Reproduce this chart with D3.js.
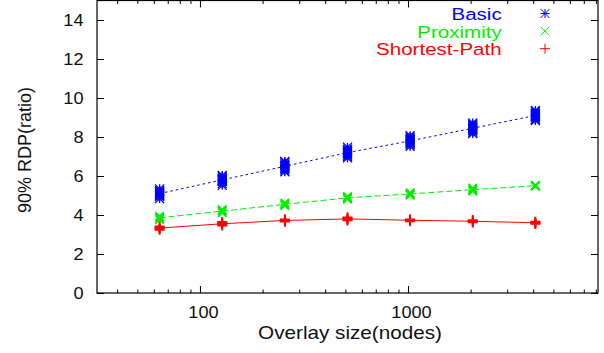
<!DOCTYPE html>
<html>
<head>
<meta charset="utf-8">
<script src="https://cdn.jsdelivr.net/npm/d3@7"></script>
<style>
  body { margin: 0; background: #fff; }
  svg { display: block; }
  text { font-family: "Liberation Sans", Arial, sans-serif; }
</style>
</head>
<body>
<svg id="chart" width="604" height="353"></svg>
<script>
// Overlay sizes (nodes) on the log x axis
const sizes = [64, 128, 256, 512, 1024, 2048, 4096];

// 90% RDP of each run, one inner list per overlay size
const basicRuns = [
  [4.84, 4.95, 5.00, 5.04, 5.10, 5.17, 5.22, 5.24, 5.34],
  [5.52, 5.61, 5.72, 5.78, 5.80, 5.86, 5.90, 5.98, 6.03],
  [6.22, 6.31, 6.38, 6.45, 6.52, 6.55, 6.62, 6.70, 6.75],
  [6.93, 7.00, 7.08, 7.15, 7.19, 7.26, 7.33, 7.38, 7.48],
  [7.52, 7.60, 7.68, 7.74, 7.80, 7.86, 7.93, 8.00, 8.07],
  [8.18, 8.25, 8.33, 8.40, 8.46, 8.50, 8.58, 8.63, 8.72],
  [8.84, 8.90, 8.98, 9.05, 9.10, 9.16, 9.22, 9.29, 9.36]
];
const proximityRuns = [
  [3.76, 3.83, 3.88, 3.94],
  [4.12, 4.18, 4.22, 4.28],
  [4.48, 4.53, 4.57, 4.62],
  [4.81, 4.86, 4.90, 4.95],
  [5.02, 5.06, 5.10, 5.14],
  [5.22, 5.28, 5.32, 5.38],
  [5.47, 5.50, 5.51, 5.52]
];
const shortestPathRuns = [
  [3.24, 3.30, 3.36, 3.42],
  [3.46, 3.52, 3.58, 3.64],
  [3.66, 3.70, 3.74, 3.78],
  [3.72, 3.78, 3.82, 3.88],
  [3.68, 3.72, 3.74, 3.78],
  [3.62, 3.66, 3.70, 3.74],
  [3.54, 3.58, 3.62, 3.66]
];

const seriesNames = ["Basic", "Proximity", "Shortest-Path"];
const yTickValues = [0, 2, 4, 6, 8, 10, 12, 14];
const xMajorTicks = [100, 1000];
const xMinorTicks = [40, 50, 60, 70, 80, 90, 200, 300, 400, 500, 600, 700, 800, 900,
                     2000, 3000, 4000, 5000, 6000, 7000, 8000];
const xDomain = [32, 8192];
const yDomain = [0, 15];

const svg = d3.select("#chart");
const plotLeft = 97, plotRight = 598, plotTop = 0.5, plotBottom = 293;

const x = d3.scaleLog().domain(xDomain).range([plotLeft, plotRight]);
const y = d3.scaleLinear().domain(yDomain).range([plotBottom, plotTop]);

// marker shapes in gnuplot style
const plusPath = s => `M${-s},0H${s}M0,${-s}V${s}`;
const crossPath = s => `M${-s},${-s}L${s},${s}M${-s},${s}L${s},${-s}`;
const starPath = s => plusPath(s) + crossPath(s);

const series = [
  { name: seriesNames[0], runs: basicRuns, color: "#0000ff", dash: "2.5,3", marker: starPath(4.5), mw: 1.3 },
  { name: seriesNames[1], runs: proximityRuns, color: "#00ee00", dash: "6,3", marker: crossPath(4.2), mw: 1.6 },
  { name: seriesNames[2], runs: shortestPathRuns, color: "#ff0000", dash: null, marker: plusPath(5), mw: 1.8 }
];

// axes: ticks point inward and are mirrored on the top and right
function styleAxis(g) {
  g.select(".domain").remove();
  g.selectAll(".tick line").attr("stroke", "#000").attr("stroke-width", 1);
}

const xAxisB = svg.append("g").attr("transform", `translate(0,${plotBottom})`)
  .call(d3.axisBottom(x).tickValues(xMajorTicks).tickSizeInner(-7).tickSizeOuter(0).tickFormat(d3.format("d")))
  .call(styleAxis);
xAxisB.selectAll("text")
  .attr("y", 0).attr("dy", 0)
  .attr("transform", "translate(3,24.5) scale(1.1,1)")
  .style("font-size", "16.5px").style("fill", "#111");

svg.append("g").attr("transform", `translate(0,${plotBottom})`)
  .call(d3.axisBottom(x).tickValues(xMinorTicks).tickSizeInner(-3.5).tickSizeOuter(0).tickFormat(""))
  .call(styleAxis);
svg.append("g").attr("transform", `translate(0,${plotTop})`)
  .call(d3.axisTop(x).tickValues(xMajorTicks).tickSizeInner(-7).tickSizeOuter(0).tickFormat(""))
  .call(styleAxis);
svg.append("g").attr("transform", `translate(0,${plotTop})`)
  .call(d3.axisTop(x).tickValues(xMinorTicks).tickSizeInner(-3.5).tickSizeOuter(0).tickFormat(""))
  .call(styleAxis);

const yAxisL = svg.append("g").attr("transform", `translate(${plotLeft},0)`)
  .call(d3.axisLeft(y).tickValues(yTickValues).tickSizeInner(-7).tickSizeOuter(0))
  .call(styleAxis);
yAxisL.selectAll("text")
  .attr("x", 0).attr("dy", "0.36em")
  .attr("transform", "translate(-13.5,0) scale(1.1,1)")
  .style("font-size", "16.5px").style("fill", "#111");

svg.append("g").attr("transform", `translate(${plotRight},0)`)
  .call(d3.axisRight(y).tickValues(yTickValues).tickSizeInner(-7).tickSizeOuter(0).tickFormat(""))
  .call(styleAxis);

// plot frame
svg.append("rect")
  .attr("x", plotLeft).attr("y", plotTop)
  .attr("width", plotRight - plotLeft).attr("height", plotBottom - plotTop)
  .attr("fill", "none").attr("stroke", "#000").attr("stroke-width", 1.2);

// series: mean line plus every run as a marker
const line = d3.line().x(d => x(d.size)).y(d => y(d.value));

series.forEach(s => {
  const means = sizes.map((size, i) => ({ size, value: d3.mean(s.runs[i]) }));
  const points = sizes.flatMap((size, i) => s.runs[i].map(value => ({ size, value })));
  const g = svg.append("g");
  g.append("path")
    .datum(means)
    .attr("d", line)
    .attr("fill", "none")
    .attr("stroke", s.color)
    .attr("stroke-width", 1)
    .attr("stroke-dasharray", s.dash);
  g.selectAll("path.pt")
    .data(points)
    .join("path")
    .attr("class", "pt")
    .attr("transform", d => `translate(${x(d.size)},${y(d.value)})`)
    .attr("d", s.marker)
    .attr("fill", "none")
    .attr("stroke", s.color)
    .attr("stroke-width", s.mw);
});

// legend
const legend = svg.append("g");
series.forEach((s, i) => {
  const base = 20 + i * 17.6;
  legend.append("text")
    .attr("text-anchor", "end")
    .attr("transform", `translate(501.7,${base}) scale(1.21,1)`)
    .style("font-size", "17px")
    .style("fill", s.color)
    .text(s.name);
  legend.append("path")
    .attr("transform", `translate(545,${base - 6.5})`)
    .attr("d", s.marker)
    .attr("fill", "none")
    .attr("stroke", s.color)
    .attr("stroke-width", 1);
});

// axis titles
svg.append("text")
  .attr("text-anchor", "middle")
  .attr("transform", "translate(350,339) scale(1.15,1)")
  .style("font-size", "18px")
  .style("fill", "#111")
  .text("Overlay size(nodes)");

svg.append("text")
  .attr("text-anchor", "middle")
  .attr("transform", "translate(31,150) rotate(-90)")
  .style("font-size", "18px")
  .style("fill", "#111")
  .text("90% RDP(ratio)");
</script>
</body>
</html>
